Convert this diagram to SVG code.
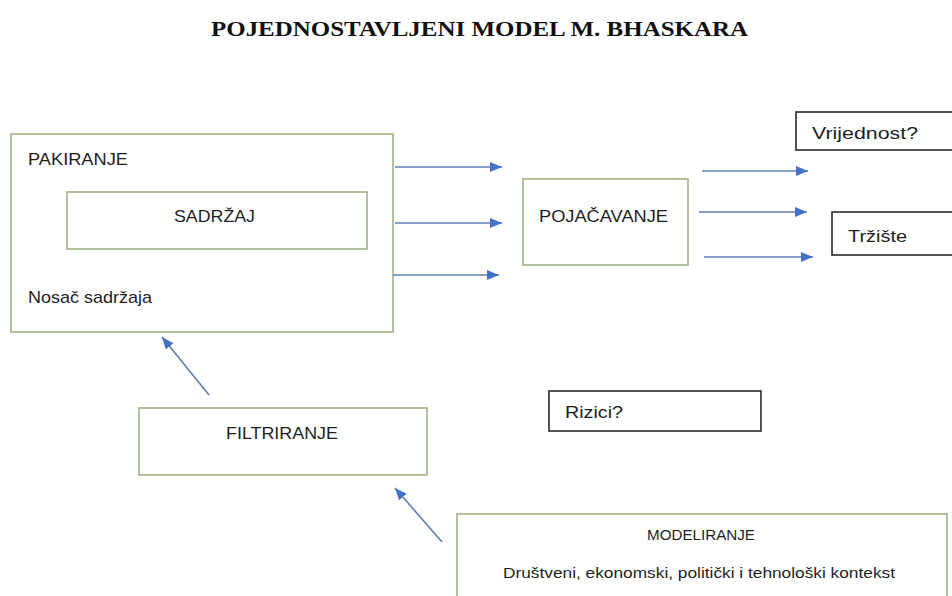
<svg xmlns="http://www.w3.org/2000/svg" width="952" height="596" viewBox="0 0 952 596">
<style>
  .g { fill: #ffffff; stroke: #9db283; stroke-width: 1.6; }
  .k { fill: #ffffff; stroke: #2a2a2a; stroke-width: 1.6; }
  .t { font-family: "Liberation Sans", Arial, sans-serif; font-size: 17px; fill: #1e1e1e; }
  .s { font-family: "Liberation Sans", Arial, sans-serif; font-size: 15px; fill: #1e1e1e; }
  .title { font-family: "Liberation Serif", "Times New Roman", serif; font-size: 22px; font-weight: bold; fill: #111; }
  .c { stroke: #5f7eb3; stroke-width: 1.6; fill: none; marker-end: url(#ah); }
</style>
<defs>
  <marker id="ah" markerUnits="userSpaceOnUse" markerWidth="14" markerHeight="12" refX="12" refY="5" orient="auto">
    <path d="M0,0 L12,5 L0,10 Z" fill="#4472c4"/>
  </marker>
</defs>
<rect width="952" height="596" fill="#ffffff"/>
<text class="title" x="211" y="36" textLength="537" lengthAdjust="spacingAndGlyphs">POJEDNOSTAVLJENI MODEL M. BHASKARA</text>

<g id="pakiranje">
  <rect class="g" x="11" y="134" width="382" height="198"/>
  <text class="t" x="28" y="165" textLength="100" lengthAdjust="spacingAndGlyphs">PAKIRANJE</text>
  <text class="t" x="28" y="303" textLength="124" lengthAdjust="spacingAndGlyphs">Nosač sadržaja</text>
</g>
<g id="sadrzaj">
  <rect class="g" x="67" y="192" width="300" height="57"/>
  <text class="t" x="174" y="222" textLength="81" lengthAdjust="spacingAndGlyphs">SADRŽAJ</text>
</g>
<g id="pojacavanje">
  <rect class="g" x="523" y="179" width="165" height="86"/>
  <text class="t" x="539" y="222" textLength="129" lengthAdjust="spacingAndGlyphs">POJAČAVANJE</text>
</g>
<g id="vrijednost">
  <rect class="k" x="796" y="112" width="170" height="38"/>
  <text class="t" x="812" y="139" textLength="106" lengthAdjust="spacingAndGlyphs">Vrijednost?</text>
</g>
<g id="trziste">
  <rect class="k" x="832" y="212" width="134" height="43"/>
  <text class="t" x="848" y="242" textLength="59" lengthAdjust="spacingAndGlyphs">Tržište</text>
</g>
<g id="rizici">
  <rect class="k" x="549" y="391" width="212" height="40"/>
  <text class="t" x="565" y="418" textLength="58" lengthAdjust="spacingAndGlyphs">Rizici?</text>
</g>
<g id="filtriranje">
  <rect class="g" x="139" y="408" width="288" height="67"/>
  <text class="t" x="226" y="439" textLength="112" lengthAdjust="spacingAndGlyphs">FILTRIRANJE</text>
</g>
<g id="modeliranje">
  <rect class="g" x="457" y="514" width="490" height="100"/>
  <text class="s" x="647" y="540" textLength="108" lengthAdjust="spacingAndGlyphs">MODELIRANJE</text>
  <text class="s" x="503" y="578" textLength="392" lengthAdjust="spacingAndGlyphs">Društveni, ekonomski, politički i tehnološki kontekst</text>
</g>

<g id="connectors">
  <line class="c" x1="395" y1="167" x2="502" y2="167"/>
  <line class="c" x1="395" y1="223" x2="502" y2="223"/>
  <line class="c" x1="393" y1="275" x2="499" y2="275"/>
  <line class="c" x1="702" y1="171" x2="808" y2="171"/>
  <line class="c" x1="699" y1="212" x2="807" y2="212"/>
  <line class="c" x1="704" y1="257" x2="813" y2="257"/>
  <line class="c" x1="209" y1="395" x2="162" y2="337"/>
  <line class="c" x1="442" y1="542" x2="395" y2="488"/>
</g>
</svg>
